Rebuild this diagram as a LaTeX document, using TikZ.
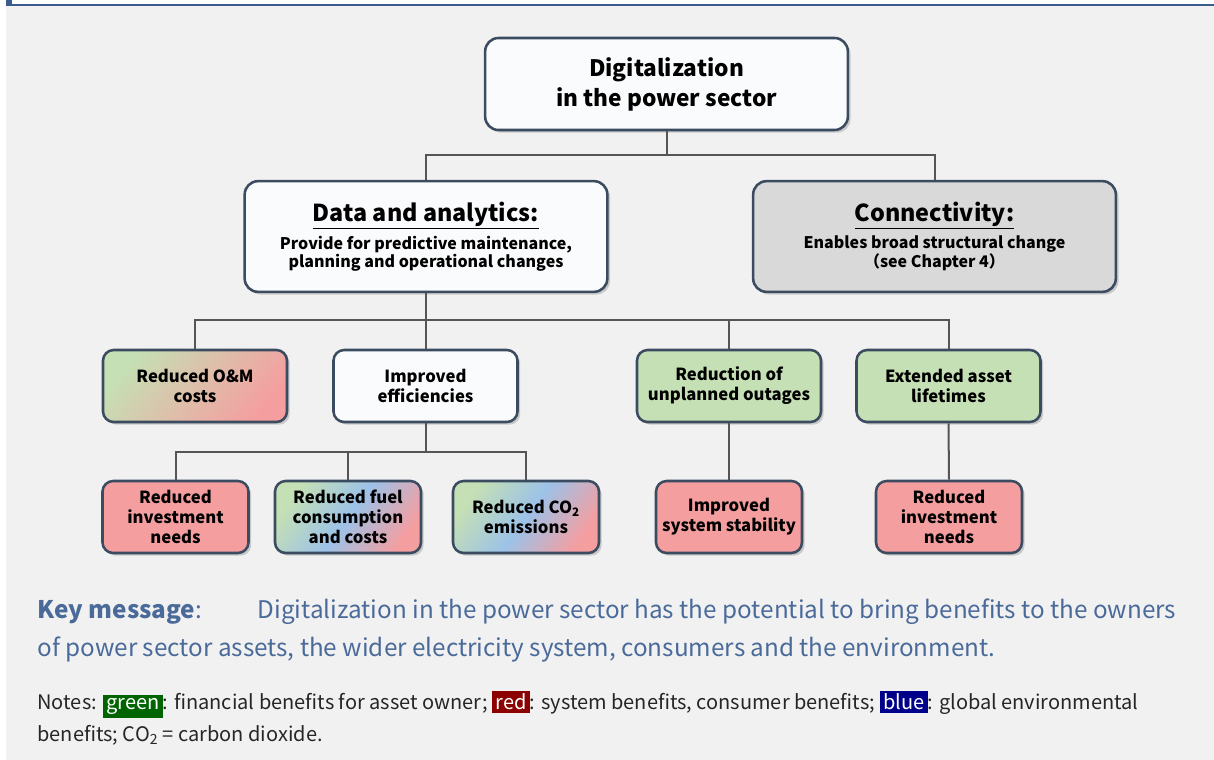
\documentclass[tikz,border=0pt]{standalone}
\usepackage{fontspec}
\setmainfont{Noto Sans CJK JP}
\usetikzlibrary{shadows}

\definecolor{boxline}{HTML}{3B4B60}
\definecolor{linkgray}{HTML}{555555}
\definecolor{panelgray}{HTML}{F1F1F1}
\definecolor{panelblue}{HTML}{3A5C8C}
\definecolor{boxwhite}{HTML}{FAFBFC}
\definecolor{boxgray}{HTML}{D9D9D9}
\definecolor{benefitgreen}{HTML}{C5E0B4}
\definecolor{benefitred}{HTML}{F59EA0}
\definecolor{benefitblue}{HTML}{9CC2E8}
\definecolor{keyblue}{HTML}{4A6A9A}
\definecolor{notegreen}{HTML}{006400}
\definecolor{notered}{HTML}{8B0000}
\definecolor{noteblue}{HTML}{00008B}

\tikzset{every picture/.style={line width=0.75pt}}

\begin{document}
\begin{tikzpicture}[x=0.75pt,y=0.75pt,yscale=-1,xscale=1,
  box/.style={draw=boxline, line width=1.9pt, rounded corners=10pt, align=center,
    font=\bfseries, drop shadow={opacity=0.35, shadow xshift=2pt, shadow yshift=-2pt}},
  bigbox/.style={box, minimum width=272pt, minimum height=83pt},
  midbox/.style={box, rounded corners=8pt, minimum width=138pt, minimum height=54pt, font=\bfseries\fontsize{12.5}{15}\selectfont},
  lowbox/.style={midbox, minimum width=109.5pt},
  mixbox/.style={lowbox, left color=benefitgreen, right color=benefitred, middle color=benefitblue, shading angle=55},
  link/.style={draw=linkgray, line width=1.5pt}]
\useasboundingbox (0,0) rectangle (1214,760);

%panel
\fill[panelgray] (6,5) rectangle (1214,760);
\fill[panelblue] (6,0) rectangle (12,6);
\draw[panelblue, line width=1.3pt] (6,5) -- (1214,5);

%level 0
\node[box, fill=boxwhite, minimum width=272pt, minimum height=69pt, font=\bfseries\fontsize{17}{22.5}\selectfont] (digital) at (666.5,84) {Digitalization\\in the power sector};

%level 1
\node[bigbox, fill=boxwhite] (data) at (426,236.5) {{\fontsize{17.5}{21}\selectfont\underline{Data and analytics:}}\\[4pt]{\fontsize{12}{15}\selectfont Provide for predictive maintenance,}\\{\fontsize{12}{15}\selectfont planning and operational changes}};
\node[bigbox, fill=boxgray] (conn) at (934.5,236.5) {{\fontsize{17.5}{21}\selectfont\underline{Connectivity:}}\\[4pt]{\fontsize{12}{15}\selectfont Enables broad structural change}\\{\fontsize{12}{15}\selectfont （see Chapter 4）}};

%level 2
\node[midbox, left color=benefitgreen, right color=benefitred, shading angle=50] (om) at (195,386) {Reduced O\&M\\costs};
\node[midbox, fill=boxwhite] (effic) at (425.5,386) {Improved\\efficiencies};
\node[midbox, fill=benefitgreen] (outage) at (729,386) {Reduction of\\unplanned outages};
\node[midbox, fill=benefitgreen] (life) at (948.5,386) {Extended asset\\lifetimes};

%level 3
\node[lowbox, fill=benefitred] (invest) at (175.5,517) {Reduced\\investment\\needs};
\node[mixbox] (fuel) at (348,517) {Reduced fuel\\consumption\\and costs};
\node[mixbox] (co2) at (526,517) {Reduced CO\textsubscript{2}\\emissions};
\node[lowbox, fill=benefitred] (stable) at (729,517) {Improved\\system stability};
\node[lowbox, fill=benefitred] (invest2) at (949,517) {Reduced\\investment\\needs};

%connectors
\coordinate (bus1) at (666.5,155);
\coordinate (bus2) at (426,320);
\coordinate (bus3) at (426,452);
\draw[link] (digital.south) -- (digital.south |- bus1);
\draw[link] (data.north) |- (bus1) -| (conn.north);
\draw[link] (data.south) -- (data.south |- bus2);
\draw[link] (om.north) |- (bus2) -| (life.north);
\draw[link] (effic.north) -- (effic.north |- bus2);
\draw[link] (outage.north) -- (outage.north |- bus2);
\draw[link] (effic.south) -- (effic.south |- bus3);
\draw[link] (invest.north) |- (bus3) -| (co2.north);
\draw[link] (fuel.north) -- (fuel.north |- bus3);
\draw[link] (outage.south) -- (stable.north);
\draw[link] (life.south) -- (invest2.north);

%key message
\node[anchor=north west, align=left, inner sep=0pt, text=keyblue, font=\fontsize{18.2}{28.5}\selectfont] (key) at (37,598)
  {\textbf{Key message}:\hspace{2.3em}Digitalization in the power sector has the potential to bring benefits to the owners\\of power sector assets, the wider electricity system, consumers and the environment.};

%notes
\setlength{\fboxsep}{2.5pt}
\node[anchor=north west, align=left, inner sep=0pt, text=black!85, font=\fontsize{15}{23.5}\selectfont] (notes) at (37,690)
  {Notes: \colorbox{notegreen}{\textcolor{white}{green}}: financial benefits for asset owner; \colorbox{notered}{\textcolor{white}{red}}: system benefits, consumer benefits; \colorbox{noteblue}{\textcolor{white}{blue}}: global environmental\\benefits; CO\textsubscript{2} = carbon dioxide.};
\end{tikzpicture}
\end{document}
